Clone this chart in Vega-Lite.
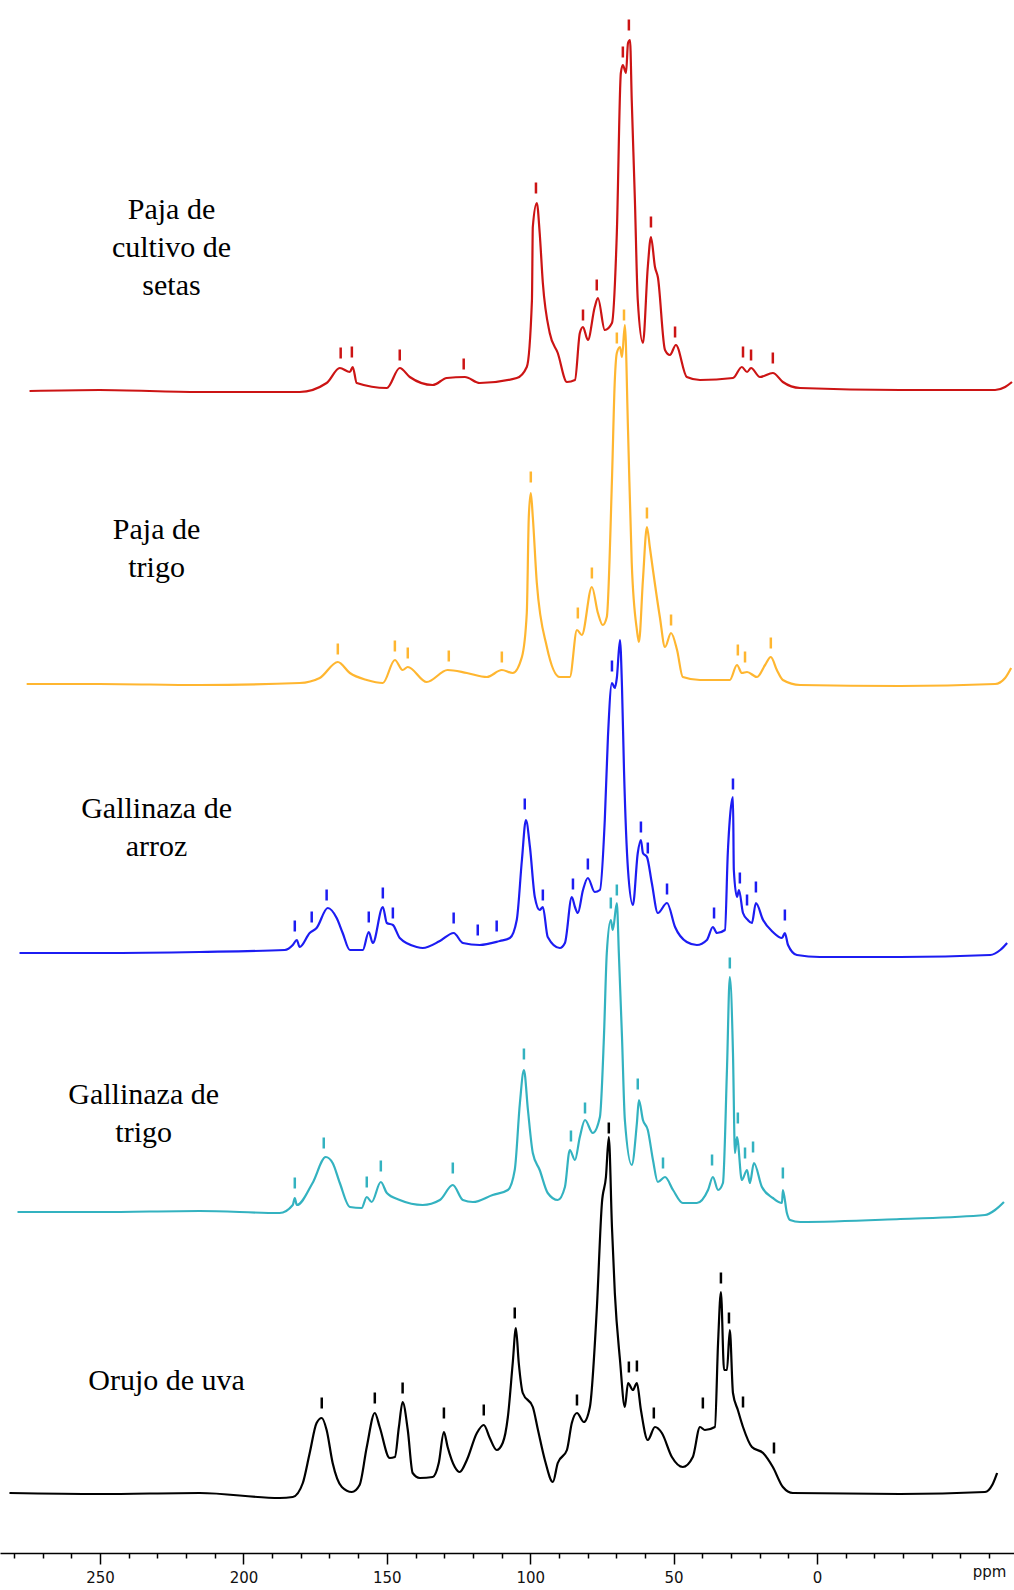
{
"$schema": "https://vega.github.io/schema/vega-lite/v6.json",
"width": 1014, "height": 1553,
"autosize": {"type": "none"},
"padding": {"left": 0, "top": 0, "right": 0, "bottom": 37},
"background": "white",
"config": {"view": {"stroke": null}},
"datasets": {
"spectra": [
{"s":"Paja de cultivo de setas","ppm":274.6,"v":1162},{"s":"Paja de cultivo de setas","ppm":250.2,"v":1163},{"s":"Paja de cultivo de setas","ppm":215.3,"v":1161},{"s":"Paja de cultivo de setas","ppm":180.4,"v":1161},{"s":"Paja de cultivo de setas","ppm":171.0,"v":1170},{"s":"Paja de cultivo de setas","ppm":166.4,"v":1185},{"s":"Paja de cultivo de setas","ppm":162.9,"v":1181},{"s":"Paja de cultivo de setas","ppm":161.9,"v":1186},{"s":"Paja de cultivo de setas","ppm":160.5,"v":1170},{"s":"Paja de cultivo de setas","ppm":150.0,"v":1165},{"s":"Paja de cultivo de setas","ppm":145.5,"v":1185},{"s":"Paja de cultivo de setas","ppm":142.0,"v":1176},{"s":"Paja de cultivo de setas","ppm":134.0,"v":1168},{"s":"Paja de cultivo de setas","ppm":129.1,"v":1175},{"s":"Paja de cultivo de setas","ppm":122.8,"v":1176},{"s":"Paja de cultivo de setas","ppm":117.6,"v":1170},{"s":"Paja de cultivo de setas","ppm":104.7,"v":1175},{"s":"Paja de cultivo de setas","ppm":101.2,"v":1186},{"s":"Paja de cultivo de setas","ppm":99.4,"v":1253},{"s":"Paja de cultivo de setas","ppm":99.1,"v":1326},{"s":"Paja de cultivo de setas","ppm":97.7,"v":1350},{"s":"Paja de cultivo de setas","ppm":96.7,"v":1320},{"s":"Paja de cultivo de setas","ppm":95.6,"v":1270},{"s":"Paja de cultivo de setas","ppm":93.2,"v":1220},{"s":"Paja de cultivo de setas","ppm":90.4,"v":1200},{"s":"Paja de cultivo de setas","ppm":87.2,"v":1171},{"s":"Paja de cultivo de setas","ppm":84.4,"v":1173},{"s":"Paja de cultivo de setas","ppm":82.7,"v":1220},{"s":"Paja de cultivo de setas","ppm":81.6,"v":1226},{"s":"Paja de cultivo de setas","ppm":79.9,"v":1213},{"s":"Paja de cultivo de setas","ppm":77.5,"v":1246},{"s":"Paja de cultivo de setas","ppm":76.4,"v":1255},{"s":"Paja de cultivo de setas","ppm":74.0,"v":1223},{"s":"Paja de cultivo de setas","ppm":71.5,"v":1230},{"s":"Paja de cultivo de setas","ppm":69.8,"v":1320},{"s":"Paja de cultivo de setas","ppm":68.4,"v":1480},{"s":"Paja de cultivo de setas","ppm":67.7,"v":1488},{"s":"Paja de cultivo de setas","ppm":66.6,"v":1480},{"s":"Paja de cultivo de setas","ppm":65.9,"v":1510},{"s":"Paja de cultivo de setas","ppm":65.2,"v":1513},{"s":"Paja de cultivo de setas","ppm":64.6,"v":1453},{"s":"Paja de cultivo de setas","ppm":63.5,"v":1353},{"s":"Paja de cultivo de setas","ppm":62.5,"v":1253},{"s":"Paja de cultivo de setas","ppm":60.7,"v":1210},{"s":"Paja de cultivo de setas","ppm":59.0,"v":1286},{"s":"Paja de cultivo de setas","ppm":57.9,"v":1316},{"s":"Paja de cultivo de setas","ppm":56.5,"v":1286},{"s":"Paja de cultivo de setas","ppm":55.5,"v":1276},{"s":"Paja de cultivo de setas","ppm":53.0,"v":1203},{"s":"Paja de cultivo de setas","ppm":51.3,"v":1198},{"s":"Paja de cultivo de setas","ppm":49.2,"v":1208},{"s":"Paja de cultivo de setas","ppm":45.4,"v":1176},{"s":"Paja de cultivo de setas","ppm":40.8,"v":1173},{"s":"Paja de cultivo de setas","ppm":29.3,"v":1175},{"s":"Paja de cultivo de setas","ppm":26.2,"v":1186},{"s":"Paja de cultivo de setas","ppm":24.4,"v":1181},{"s":"Paja de cultivo de setas","ppm":23.0,"v":1185},{"s":"Paja de cultivo de setas","ppm":19.9,"v":1176},{"s":"Paja de cultivo de setas","ppm":15.4,"v":1180},{"s":"Paja de cultivo de setas","ppm":11.9,"v":1171},{"s":"Paja de cultivo de setas","ppm":5.9,"v":1165},{"s":"Paja de cultivo de setas","ppm":-29.0,"v":1163},{"s":"Paja de cultivo de setas","ppm":-62.1,"v":1163},{"s":"Paja de cultivo de setas","ppm":-65.6,"v":1166},{"s":"Paja de cultivo de setas","ppm":-68.0,"v":1171},
{"s":"Paja de trigo","ppm":275.6,"v":869},{"s":"Paja de trigo","ppm":250.2,"v":869},{"s":"Paja de trigo","ppm":215.3,"v":868},{"s":"Paja de trigo","ppm":180.4,"v":870},{"s":"Paja de trigo","ppm":173.4,"v":875},{"s":"Paja de trigo","ppm":167.1,"v":891},{"s":"Paja de trigo","ppm":162.9,"v":880},{"s":"Paja de trigo","ppm":157.0,"v":873},{"s":"Paja de trigo","ppm":151.4,"v":870},{"s":"Paja de trigo","ppm":147.2,"v":893},{"s":"Paja de trigo","ppm":144.5,"v":883},{"s":"Paja de trigo","ppm":142.7,"v":886},{"s":"Paja de trigo","ppm":136.1,"v":871},{"s":"Paja de trigo","ppm":128.8,"v":883},{"s":"Paja de trigo","ppm":122.1,"v":880},{"s":"Paja de trigo","ppm":115.1,"v":876},{"s":"Paja de trigo","ppm":109.9,"v":883},{"s":"Paja de trigo","ppm":106.1,"v":880},{"s":"Paja de trigo","ppm":102.9,"v":896},{"s":"Paja de trigo","ppm":101.2,"v":940},{"s":"Paja de trigo","ppm":100.5,"v":1036},{"s":"Paja de trigo","ppm":99.8,"v":1060},{"s":"Paja de trigo","ppm":99.1,"v":1036},{"s":"Paja de trigo","ppm":97.7,"v":970},{"s":"Paja de trigo","ppm":94.2,"v":906},{"s":"Paja de trigo","ppm":89.7,"v":876},{"s":"Paja de trigo","ppm":86.2,"v":876},{"s":"Paja de trigo","ppm":83.7,"v":923},{"s":"Paja de trigo","ppm":82.0,"v":918},{"s":"Paja de trigo","ppm":78.5,"v":966},{"s":"Paja de trigo","ppm":76.4,"v":940},{"s":"Paja de trigo","ppm":74.7,"v":928},{"s":"Paja de trigo","ppm":73.3,"v":936},{"s":"Paja de trigo","ppm":71.5,"v":1073},{"s":"Paja de trigo","ppm":70.5,"v":1173},{"s":"Paja de trigo","ppm":69.8,"v":1200},{"s":"Paja de trigo","ppm":68.7,"v":1206},{"s":"Paja de trigo","ppm":68.0,"v":1196},{"s":"Paja de trigo","ppm":67.0,"v":1228},{"s":"Paja de trigo","ppm":65.9,"v":1123},{"s":"Paja de trigo","ppm":64.6,"v":990},{"s":"Paja de trigo","ppm":62.8,"v":923},{"s":"Paja de trigo","ppm":62.1,"v":911},{"s":"Paja de trigo","ppm":60.7,"v":973},{"s":"Paja de trigo","ppm":59.3,"v":1026},{"s":"Paja de trigo","ppm":58.3,"v":1006},{"s":"Paja de trigo","ppm":57.2,"v":983},{"s":"Paja de trigo","ppm":54.8,"v":936},{"s":"Paja de trigo","ppm":53.0,"v":906},{"s":"Paja de trigo","ppm":50.9,"v":920},{"s":"Paja de trigo","ppm":48.8,"v":903},{"s":"Paja de trigo","ppm":46.8,"v":876},{"s":"Paja de trigo","ppm":40.8,"v":873},{"s":"Paja de trigo","ppm":30.4,"v":873},{"s":"Paja de trigo","ppm":27.9,"v":888},{"s":"Paja de trigo","ppm":26.2,"v":880},{"s":"Paja de trigo","ppm":24.4,"v":881},{"s":"Paja de trigo","ppm":20.9,"v":876},{"s":"Paja de trigo","ppm":18.1,"v":888},{"s":"Paja de trigo","ppm":16.1,"v":896},{"s":"Paja de trigo","ppm":14.0,"v":883},{"s":"Paja de trigo","ppm":11.9,"v":873},{"s":"Paja de trigo","ppm":5.9,"v":868},{"s":"Paja de trigo","ppm":-29.0,"v":867},{"s":"Paja de trigo","ppm":-62.1,"v":869},{"s":"Paja de trigo","ppm":-65.6,"v":875},{"s":"Paja de trigo","ppm":-67.7,"v":885},
{"s":"Gallinaza de arroz","ppm":278.1,"v":600},{"s":"Gallinaza de arroz","ppm":250.2,"v":600},{"s":"Gallinaza de arroz","ppm":215.3,"v":601},{"s":"Gallinaza de arroz","ppm":185.6,"v":603},{"s":"Gallinaza de arroz","ppm":182.8,"v":608},{"s":"Gallinaza de arroz","ppm":181.4,"v":613},{"s":"Gallinaza de arroz","ppm":180.4,"v":606},{"s":"Gallinaza de arroz","ppm":176.9,"v":620},{"s":"Gallinaza de arroz","ppm":174.5,"v":625},{"s":"Gallinaza de arroz","ppm":170.6,"v":645},{"s":"Gallinaza de arroz","ppm":167.5,"v":635},{"s":"Gallinaza de arroz","ppm":165.4,"v":620},{"s":"Gallinaza de arroz","ppm":162.9,"v":603},{"s":"Gallinaza de arroz","ppm":158.4,"v":603},{"s":"Gallinaza de arroz","ppm":156.3,"v":621},{"s":"Gallinaza de arroz","ppm":154.9,"v":610},{"s":"Gallinaza de arroz","ppm":151.4,"v":646},{"s":"Gallinaza de arroz","ppm":150.0,"v":630},{"s":"Gallinaza de arroz","ppm":147.9,"v":628},{"s":"Gallinaza de arroz","ppm":145.5,"v":615},{"s":"Gallinaza de arroz","ppm":139.6,"v":606},{"s":"Gallinaza de arroz","ppm":137.5,"v":605},{"s":"Gallinaza de arroz","ppm":131.5,"v":612},{"s":"Gallinaza de arroz","ppm":126.7,"v":620},{"s":"Gallinaza de arroz","ppm":123.5,"v":610},{"s":"Gallinaza de arroz","ppm":117.6,"v":608},{"s":"Gallinaza de arroz","ppm":110.6,"v":612},{"s":"Gallinaza de arroz","ppm":107.1,"v":615},{"s":"Gallinaza de arroz","ppm":104.7,"v":633},{"s":"Gallinaza de arroz","ppm":102.9,"v":693},{"s":"Gallinaza de arroz","ppm":101.5,"v":733},{"s":"Gallinaza de arroz","ppm":100.1,"v":706},{"s":"Gallinaza de arroz","ppm":98.4,"v":656},{"s":"Gallinaza de arroz","ppm":96.7,"v":643},{"s":"Gallinaza de arroz","ppm":95.6,"v":646},{"s":"Gallinaza de arroz","ppm":93.9,"v":616},{"s":"Gallinaza de arroz","ppm":89.7,"v":605},{"s":"Gallinaza de arroz","ppm":87.9,"v":610},{"s":"Gallinaza de arroz","ppm":85.5,"v":656},{"s":"Gallinaza de arroz","ppm":84.4,"v":646},{"s":"Gallinaza de arroz","ppm":83.4,"v":640},{"s":"Gallinaza de arroz","ppm":81.6,"v":663},{"s":"Gallinaza de arroz","ppm":79.9,"v":675},{"s":"Gallinaza de arroz","ppm":77.5,"v":661},{"s":"Gallinaza de arroz","ppm":75.7,"v":663},{"s":"Gallinaza de arroz","ppm":74.0,"v":733},{"s":"Gallinaza de arroz","ppm":72.9,"v":816},{"s":"Gallinaza de arroz","ppm":71.5,"v":870},{"s":"Gallinaza de arroz","ppm":70.5,"v":865},{"s":"Gallinaza de arroz","ppm":69.8,"v":875},{"s":"Gallinaza de arroz","ppm":68.7,"v":913},{"s":"Gallinaza de arroz","ppm":68.0,"v":866},{"s":"Gallinaza de arroz","ppm":67.3,"v":783},{"s":"Gallinaza de arroz","ppm":65.9,"v":683},{"s":"Gallinaza de arroz","ppm":64.2,"v":648},{"s":"Gallinaza de arroz","ppm":62.5,"v":700},{"s":"Gallinaza de arroz","ppm":61.4,"v":713},{"s":"Gallinaza de arroz","ppm":60.7,"v":700},{"s":"Gallinaza de arroz","ppm":59.3,"v":696},{"s":"Gallinaza de arroz","ppm":57.6,"v":670},{"s":"Gallinaza de arroz","ppm":55.5,"v":640},{"s":"Gallinaza de arroz","ppm":52.3,"v":650},{"s":"Gallinaza de arroz","ppm":49.5,"v":626},{"s":"Gallinaza de arroz","ppm":45.4,"v":611},{"s":"Gallinaza de arroz","ppm":41.9,"v":608},{"s":"Gallinaza de arroz","ppm":38.4,"v":613},{"s":"Gallinaza de arroz","ppm":36.3,"v":626},{"s":"Gallinaza de arroz","ppm":34.9,"v":620},{"s":"Gallinaza de arroz","ppm":32.1,"v":623},{"s":"Gallinaza de arroz","ppm":31.1,"v":700},{"s":"Gallinaza de arroz","ppm":30.0,"v":746},{"s":"Gallinaza de arroz","ppm":29.3,"v":756},{"s":"Gallinaza de arroz","ppm":29.0,"v":683},{"s":"Gallinaza de arroz","ppm":27.9,"v":656},{"s":"Gallinaza de arroz","ppm":27.2,"v":663},{"s":"Gallinaza de arroz","ppm":25.8,"v":640},{"s":"Gallinaza de arroz","ppm":24.1,"v":633},{"s":"Gallinaza de arroz","ppm":22.7,"v":630},{"s":"Gallinaza de arroz","ppm":21.3,"v":650},{"s":"Gallinaza de arroz","ppm":18.8,"v":633},{"s":"Gallinaza de arroz","ppm":15.4,"v":621},{"s":"Gallinaza de arroz","ppm":12.2,"v":615},{"s":"Gallinaza de arroz","ppm":11.2,"v":620},{"s":"Gallinaza de arroz","ppm":10.1,"v":608},{"s":"Gallinaza de arroz","ppm":7.0,"v":598},{"s":"Gallinaza de arroz","ppm":-1.0,"v":596},{"s":"Gallinaza de arroz","ppm":-29.0,"v":596},{"s":"Gallinaza de arroz","ppm":-60.4,"v":598},{"s":"Gallinaza de arroz","ppm":-63.9,"v":603},{"s":"Gallinaza de arroz","ppm":-66.3,"v":610},
{"s":"Gallinaza de trigo","ppm":278.8,"v":341},{"s":"Gallinaza de trigo","ppm":250.2,"v":341},{"s":"Gallinaza de trigo","ppm":215.3,"v":342},{"s":"Gallinaza de trigo","ppm":187.4,"v":340},{"s":"Gallinaza de trigo","ppm":182.8,"v":348},{"s":"Gallinaza de trigo","ppm":182.1,"v":355},{"s":"Gallinaza de trigo","ppm":181.4,"v":348},{"s":"Gallinaza de trigo","ppm":175.9,"v":370},{"s":"Gallinaza de trigo","ppm":171.3,"v":396},{"s":"Gallinaza de trigo","ppm":168.9,"v":390},{"s":"Gallinaza de trigo","ppm":166.4,"v":370},{"s":"Gallinaza de trigo","ppm":162.9,"v":346},{"s":"Gallinaza de trigo","ppm":158.8,"v":345},{"s":"Gallinaza de trigo","ppm":157.0,"v":356},{"s":"Gallinaza de trigo","ppm":155.3,"v":351},{"s":"Gallinaza de trigo","ppm":152.1,"v":371},{"s":"Gallinaza de trigo","ppm":150.0,"v":360},{"s":"Gallinaza de trigo","ppm":145.5,"v":353},{"s":"Gallinaza de trigo","ppm":137.5,"v":348},{"s":"Gallinaza de trigo","ppm":131.5,"v":353},{"s":"Gallinaza de trigo","ppm":127.0,"v":368},{"s":"Gallinaza de trigo","ppm":123.5,"v":353},{"s":"Gallinaza de trigo","ppm":120.0,"v":351},{"s":"Gallinaza de trigo","ppm":113.1,"v":358},{"s":"Gallinaza de trigo","ppm":107.8,"v":363},{"s":"Gallinaza de trigo","ppm":105.4,"v":383},{"s":"Gallinaza de trigo","ppm":103.6,"v":450},{"s":"Gallinaza de trigo","ppm":102.2,"v":483},{"s":"Gallinaza de trigo","ppm":100.8,"v":443},{"s":"Gallinaza de trigo","ppm":99.1,"v":400},{"s":"Gallinaza de trigo","ppm":96.7,"v":383},{"s":"Gallinaza de trigo","ppm":93.9,"v":360},{"s":"Gallinaza de trigo","ppm":90.4,"v":353},{"s":"Gallinaza de trigo","ppm":87.9,"v":366},{"s":"Gallinaza de trigo","ppm":86.2,"v":403},{"s":"Gallinaza de trigo","ppm":84.4,"v":393},{"s":"Gallinaza de trigo","ppm":82.7,"v":416},{"s":"Gallinaza de trigo","ppm":80.9,"v":433},{"s":"Gallinaza de trigo","ppm":78.2,"v":420},{"s":"Gallinaza de trigo","ppm":75.7,"v":436},{"s":"Gallinaza de trigo","ppm":74.3,"v":516},{"s":"Gallinaza de trigo","ppm":73.3,"v":600},{"s":"Gallinaza de trigo","ppm":71.9,"v":633},{"s":"Gallinaza de trigo","ppm":71.2,"v":623},{"s":"Gallinaza de trigo","ppm":69.8,"v":650},{"s":"Gallinaza de trigo","ppm":69.1,"v":600},{"s":"Gallinaza de trigo","ppm":68.0,"v":516},{"s":"Gallinaza de trigo","ppm":67.0,"v":433},{"s":"Gallinaza de trigo","ppm":64.6,"v":388},{"s":"Gallinaza de trigo","ppm":62.8,"v":430},{"s":"Gallinaza de trigo","ppm":62.1,"v":453},{"s":"Gallinaza de trigo","ppm":60.7,"v":433},{"s":"Gallinaza de trigo","ppm":59.0,"v":423},{"s":"Gallinaza de trigo","ppm":57.2,"v":393},{"s":"Gallinaza de trigo","ppm":55.5,"v":371},{"s":"Gallinaza de trigo","ppm":53.0,"v":376},{"s":"Gallinaza de trigo","ppm":50.2,"v":363},{"s":"Gallinaza de trigo","ppm":46.8,"v":350},{"s":"Gallinaza de trigo","ppm":41.9,"v":350},{"s":"Gallinaza de trigo","ppm":38.0,"v":363},{"s":"Gallinaza de trigo","ppm":36.3,"v":376},{"s":"Gallinaza de trigo","ppm":34.5,"v":363},{"s":"Gallinaza de trigo","ppm":32.8,"v":370},{"s":"Gallinaza de trigo","ppm":31.4,"v":483},{"s":"Gallinaza de trigo","ppm":30.4,"v":576},{"s":"Gallinaza de trigo","ppm":29.3,"v":500},{"s":"Gallinaza de trigo","ppm":28.6,"v":400},{"s":"Gallinaza de trigo","ppm":27.9,"v":416},{"s":"Gallinaza de trigo","ppm":26.2,"v":373},{"s":"Gallinaza de trigo","ppm":24.4,"v":383},{"s":"Gallinaza de trigo","ppm":23.4,"v":370},{"s":"Gallinaza de trigo","ppm":22.0,"v":390},{"s":"Gallinaza de trigo","ppm":19.2,"v":366},{"s":"Gallinaza de trigo","ppm":15.4,"v":355},{"s":"Gallinaza de trigo","ppm":12.2,"v":350},{"s":"Gallinaza de trigo","ppm":11.9,"v":363},{"s":"Gallinaza de trigo","ppm":10.5,"v":340},{"s":"Gallinaza de trigo","ppm":9.4,"v":333},{"s":"Gallinaza de trigo","ppm":5.9,"v":331},{"s":"Gallinaza de trigo","ppm":-29.0,"v":334},{"s":"Gallinaza de trigo","ppm":-58.6,"v":338},{"s":"Gallinaza de trigo","ppm":-62.1,"v":343},{"s":"Gallinaza de trigo","ppm":-65.2,"v":351},
{"s":"Orujo de uva","ppm":281.6,"v":60},{"s":"Orujo de uva","ppm":250.2,"v":59},{"s":"Orujo de uva","ppm":215.3,"v":60},{"s":"Orujo de uva","ppm":187.4,"v":55},{"s":"Orujo de uva","ppm":182.8,"v":56},{"s":"Orujo de uva","ppm":179.3,"v":70},{"s":"Orujo de uva","ppm":176.9,"v":100},{"s":"Orujo de uva","ppm":174.5,"v":130},{"s":"Orujo de uva","ppm":172.7,"v":135},{"s":"Orujo de uva","ppm":171.0,"v":123},{"s":"Orujo de uva","ppm":168.9,"v":90},{"s":"Orujo de uva","ppm":165.7,"v":66},{"s":"Orujo de uva","ppm":162.2,"v":61},{"s":"Orujo de uva","ppm":159.5,"v":68},{"s":"Orujo de uva","ppm":157.0,"v":106},{"s":"Orujo de uva","ppm":154.2,"v":140},{"s":"Orujo de uva","ppm":152.5,"v":126},{"s":"Orujo de uva","ppm":149.0,"v":95},{"s":"Orujo de uva","ppm":147.2,"v":96},{"s":"Orujo de uva","ppm":145.8,"v":126},{"s":"Orujo de uva","ppm":144.5,"v":151},{"s":"Orujo de uva","ppm":142.7,"v":123},{"s":"Orujo de uva","ppm":141.0,"v":80},{"s":"Orujo de uva","ppm":138.5,"v":75},{"s":"Orujo de uva","ppm":134.0,"v":76},{"s":"Orujo de uva","ppm":131.9,"v":90},{"s":"Orujo de uva","ppm":130.1,"v":121},{"s":"Orujo de uva","ppm":128.8,"v":106},{"s":"Orujo de uva","ppm":126.3,"v":86},{"s":"Orujo de uva","ppm":124.6,"v":81},{"s":"Orujo de uva","ppm":122.1,"v":93},{"s":"Orujo de uva","ppm":118.6,"v":120},{"s":"Orujo de uva","ppm":116.2,"v":128},{"s":"Orujo de uva","ppm":114.1,"v":115},{"s":"Orujo de uva","ppm":111.7,"v":103},{"s":"Orujo de uva","ppm":109.6,"v":110},{"s":"Orujo de uva","ppm":107.8,"v":136},{"s":"Orujo de uva","ppm":106.1,"v":190},{"s":"Orujo de uva","ppm":105.0,"v":225},{"s":"Orujo de uva","ppm":104.0,"v":190},{"s":"Orujo de uva","ppm":102.6,"v":160},{"s":"Orujo de uva","ppm":99.1,"v":146},{"s":"Orujo de uva","ppm":97.3,"v":123},{"s":"Orujo de uva","ppm":94.9,"v":93},{"s":"Orujo de uva","ppm":92.1,"v":71},{"s":"Orujo de uva","ppm":90.4,"v":90},{"s":"Orujo de uva","ppm":87.2,"v":103},{"s":"Orujo de uva","ppm":85.5,"v":130},{"s":"Orujo de uva","ppm":83.7,"v":140},{"s":"Orujo de uva","ppm":81.3,"v":131},{"s":"Orujo de uva","ppm":79.2,"v":146},{"s":"Orujo de uva","ppm":76.8,"v":243},{"s":"Orujo de uva","ppm":75.0,"v":350},{"s":"Orujo de uva","ppm":73.6,"v":376},{"s":"Orujo de uva","ppm":72.6,"v":416},{"s":"Orujo de uva","ppm":71.5,"v":326},{"s":"Orujo de uva","ppm":70.5,"v":260},{"s":"Orujo de uva","ppm":68.7,"v":193},{"s":"Orujo de uva","ppm":67.0,"v":146},{"s":"Orujo de uva","ppm":65.9,"v":170},{"s":"Orujo de uva","ppm":64.2,"v":163},{"s":"Orujo de uva","ppm":62.8,"v":170},{"s":"Orujo de uva","ppm":61.4,"v":143},{"s":"Orujo de uva","ppm":59.0,"v":113},{"s":"Orujo de uva","ppm":56.5,"v":126},{"s":"Orujo de uva","ppm":54.1,"v":120},{"s":"Orujo de uva","ppm":50.6,"v":96},{"s":"Orujo de uva","ppm":46.8,"v":86},{"s":"Orujo de uva","ppm":43.3,"v":96},{"s":"Orujo de uva","ppm":40.8,"v":126},{"s":"Orujo de uva","ppm":39.1,"v":123},{"s":"Orujo de uva","ppm":35.6,"v":126},{"s":"Orujo de uva","ppm":34.5,"v":210},{"s":"Orujo de uva","ppm":33.5,"v":261},{"s":"Orujo de uva","ppm":32.4,"v":183},{"s":"Orujo de uva","ppm":31.4,"v":183},{"s":"Orujo de uva","ppm":30.4,"v":223},{"s":"Orujo de uva","ppm":29.3,"v":160},{"s":"Orujo de uva","ppm":27.6,"v":143},{"s":"Orujo de uva","ppm":25.8,"v":126},{"s":"Orujo de uva","ppm":22.7,"v":106},{"s":"Orujo de uva","ppm":18.8,"v":100},{"s":"Orujo de uva","ppm":15.4,"v":86},{"s":"Orujo de uva","ppm":11.9,"v":66},{"s":"Orujo de uva","ppm":8.4,"v":60},{"s":"Orujo de uva","ppm":-29.0,"v":59},{"s":"Orujo de uva","ppm":-58.6,"v":61},{"s":"Orujo de uva","ppm":-61.1,"v":68},{"s":"Orujo de uva","ppm":-62.8,"v":80}
],
"peaks": [
{"s":"Paja de cultivo de setas","ppm":166.1,"v":1200},{"s":"Paja de cultivo de setas","ppm":162.2,"v":1201},{"s":"Paja de cultivo de setas","ppm":145.5,"v":1198},{"s":"Paja de cultivo de setas","ppm":123.2,"v":1189},{"s":"Paja de cultivo de setas","ppm":98.0,"v":1365},{"s":"Paja de cultivo de setas","ppm":81.6,"v":1238},{"s":"Paja de cultivo de setas","ppm":76.8,"v":1268},{"s":"Paja de cultivo de setas","ppm":67.7,"v":1501},{"s":"Paja de cultivo de setas","ppm":65.6,"v":1528},{"s":"Paja de cultivo de setas","ppm":57.9,"v":1331},{"s":"Paja de cultivo de setas","ppm":49.5,"v":1221},{"s":"Paja de cultivo de setas","ppm":25.8,"v":1201},{"s":"Paja de cultivo de setas","ppm":23.0,"v":1198},{"s":"Paja de cultivo de setas","ppm":15.4,"v":1195},
{"s":"Paja de trigo","ppm":167.1,"v":904},{"s":"Paja de trigo","ppm":147.2,"v":907},{"s":"Paja de trigo","ppm":142.7,"v":900},{"s":"Paja de trigo","ppm":128.4,"v":897},{"s":"Paja de trigo","ppm":109.9,"v":896},{"s":"Paja de trigo","ppm":99.8,"v":1076},{"s":"Paja de trigo","ppm":83.4,"v":940},{"s":"Paja de trigo","ppm":78.5,"v":980},{"s":"Paja de trigo","ppm":69.8,"v":1215},{"s":"Paja de trigo","ppm":67.3,"v":1238},{"s":"Paja de trigo","ppm":59.3,"v":1040},{"s":"Paja de trigo","ppm":50.9,"v":933},{"s":"Paja de trigo","ppm":27.6,"v":903},{"s":"Paja de trigo","ppm":25.1,"v":896},{"s":"Paja de trigo","ppm":16.1,"v":910},
{"s":"Gallinaza de arroz","ppm":182.1,"v":627},{"s":"Gallinaza de arroz","ppm":176.2,"v":636},{"s":"Gallinaza de arroz","ppm":171.0,"v":658},{"s":"Gallinaza de arroz","ppm":156.3,"v":636},{"s":"Gallinaza de arroz","ppm":151.4,"v":660},{"s":"Gallinaza de arroz","ppm":147.9,"v":640},{"s":"Gallinaza de arroz","ppm":126.7,"v":635},{"s":"Gallinaza de arroz","ppm":118.3,"v":623},{"s":"Gallinaza de arroz","ppm":111.7,"v":627},{"s":"Gallinaza de arroz","ppm":101.9,"v":749},{"s":"Gallinaza de arroz","ppm":95.6,"v":658},{"s":"Gallinaza de arroz","ppm":85.1,"v":669},{"s":"Gallinaza de arroz","ppm":79.9,"v":689},{"s":"Gallinaza de arroz","ppm":71.5,"v":887},{"s":"Gallinaza de arroz","ppm":61.4,"v":726},{"s":"Gallinaza de arroz","ppm":59.0,"v":705},{"s":"Gallinaza de arroz","ppm":52.3,"v":664},{"s":"Gallinaza de arroz","ppm":35.9,"v":640},{"s":"Gallinaza de arroz","ppm":29.3,"v":769},{"s":"Gallinaza de arroz","ppm":26.9,"v":675},{"s":"Gallinaza de arroz","ppm":24.4,"v":653},{"s":"Gallinaza de arroz","ppm":21.3,"v":666},{"s":"Gallinaza de arroz","ppm":11.2,"v":638},
{"s":"Gallinaza de trigo","ppm":182.1,"v":370},{"s":"Gallinaza de trigo","ppm":172.0,"v":410},{"s":"Gallinaza de trigo","ppm":157.0,"v":371},{"s":"Gallinaza de trigo","ppm":152.1,"v":387},{"s":"Gallinaza de trigo","ppm":127.0,"v":385},{"s":"Gallinaza de trigo","ppm":102.2,"v":499},{"s":"Gallinaza de trigo","ppm":85.8,"v":417},{"s":"Gallinaza de trigo","ppm":80.9,"v":445},{"s":"Gallinaza de trigo","ppm":71.9,"v":650},{"s":"Gallinaza de trigo","ppm":69.8,"v":663},{"s":"Gallinaza de trigo","ppm":62.5,"v":469},{"s":"Gallinaza de trigo","ppm":53.7,"v":390},{"s":"Gallinaza de trigo","ppm":36.6,"v":393},{"s":"Gallinaza de trigo","ppm":30.4,"v":590},{"s":"Gallinaza de trigo","ppm":27.6,"v":435},{"s":"Gallinaza de trigo","ppm":25.1,"v":400},{"s":"Gallinaza de trigo","ppm":22.3,"v":406},{"s":"Gallinaza de trigo","ppm":11.9,"v":380},
{"s":"Orujo de uva","ppm":172.7,"v":150},{"s":"Orujo de uva","ppm":154.2,"v":155},{"s":"Orujo de uva","ppm":144.5,"v":165},{"s":"Orujo de uva","ppm":130.1,"v":140},{"s":"Orujo de uva","ppm":116.2,"v":143},{"s":"Orujo de uva","ppm":105.4,"v":240},{"s":"Orujo de uva","ppm":83.7,"v":153},{"s":"Orujo de uva","ppm":72.6,"v":425},{"s":"Orujo de uva","ppm":65.6,"v":186},{"s":"Orujo de uva","ppm":62.8,"v":187},{"s":"Orujo de uva","ppm":56.9,"v":140},{"s":"Orujo de uva","ppm":39.8,"v":150},{"s":"Orujo de uva","ppm":33.5,"v":275},{"s":"Orujo de uva","ppm":30.7,"v":235},{"s":"Orujo de uva","ppm":25.8,"v":151},{"s":"Orujo de uva","ppm":15.0,"v":105}
],
"labels": [
{"s":"Paja de cultivo de setas","t":"Paja de\ncultivo de\nsetas","ppm":225.1,"v":1343},
{"s":"Paja de trigo","t":"Paja de\ntrigo","ppm":230.3,"v":1023},
{"s":"Gallinaza de arroz","t":"Gallinaza de\narroz","ppm":230.3,"v":744},
{"s":"Gallinaza de trigo","t":"Gallinaza de\ntrigo","ppm":234.8,"v":458},
{"s":"Orujo de uva","t":"Orujo de uva","ppm":226.8,"v":172}
]
},
"encoding": {
"x": {"field": "ppm", "type": "quantitative",
  "scale": {"domain": [-68.7, 284.9], "reverse": true, "nice": false, "zero": false},
  "axis": {"title": null, "grid": false,
    "values": [280,270,260,250,240,230,220,210,200,190,180,170,160,150,140,130,120,110,100,90,80,70,60,50,40,30,20,10,0,-10,-20,-30,-40,-50,-60],
    "labelExpr": "datum.value === -60 ? 'ppm' : ((datum.value % 50 === 0 && datum.value >= 0 && datum.value <= 250) ? datum.label : '')",
    "tickSize": {"condition": {"test": "datum.value % 50 === 0 && datum.value >= 0 && datum.value <= 250", "value": 11}, "value": 5},
    "domainColor": "#000", "domainWidth": 1.5, "tickColor": "#000", "tickWidth": 1.5,
    "labelFont": "DejaVu Sans", "labelFontSize": 15, "labelColor": "#111", "labelPadding": 6,
    "labelFlush": false, "labelOverlap": false, "labelBound": false}},
"y": {"field": "v", "type": "quantitative", "scale": {"domain": [0, 1553], "nice": false, "zero": false}, "axis": null},
"color": {"field": "s", "type": "nominal",
  "scale": {"domain": ["Paja de cultivo de setas","Paja de trigo","Gallinaza de arroz","Gallinaza de trigo","Orujo de uva"],
            "range": ["#cc1414","#ffb630","#1c1cf2","#33b2c0","#000000"]},
  "legend": null}
},
"layer": [
{"data": {"name": "spectra"}, "mark": {"type": "line", "strokeWidth": 2.2, "clip": true, "interpolate": "monotone"},
 "encoding": {"order": {"field": "ppm", "type": "quantitative", "sort": "descending"}}},
{"data": {"name": "peaks"}, "mark": {"type": "tick", "orient": "vertical", "size": 11, "thickness": 2.5, "opacity": 1}},
{"data": {"name": "labels"}, "mark": {"type": "text", "font": "Liberation Serif", "fontSize": 30, "lineHeight": 38, "align": "center", "baseline": "middle", "lineBreak": "\n"},
 "encoding": {"text": {"field": "t"}, "color": {"value": "#000000"}}}
]
}
